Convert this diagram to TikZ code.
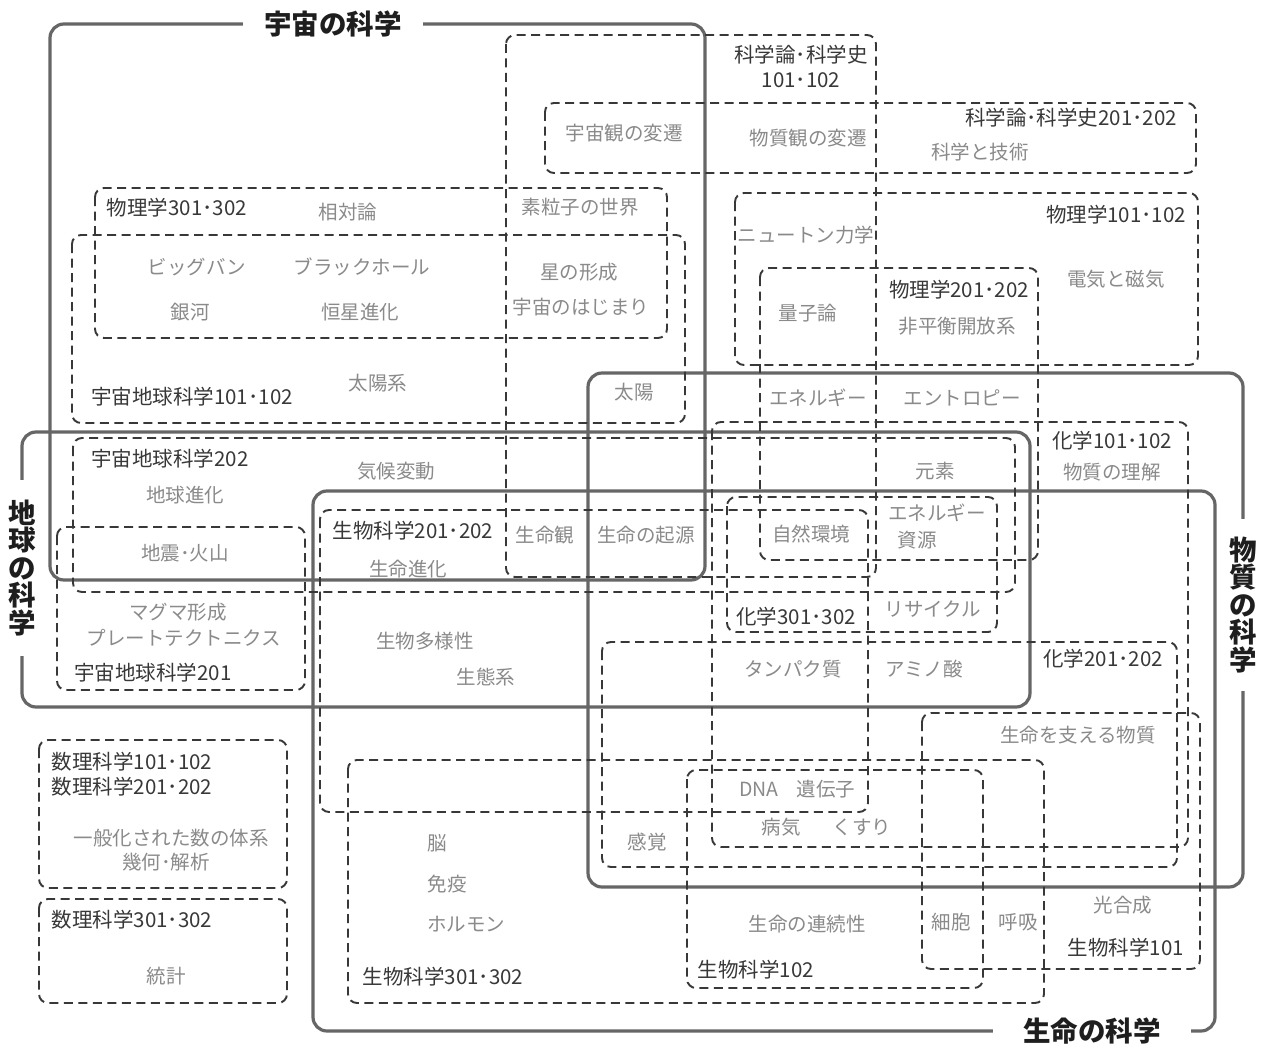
\documentclass[tikz,border=0pt]{standalone}
\usepackage{fontspec}
\newfontfamily\jp{Noto Sans CJK JP}
\definecolor{framegray}{HTML}{666666}
\definecolor{dashgray}{HTML}{383838}
\definecolor{coursegray}{HTML}{383838}
\definecolor{topicgray}{HTML}{8A8A8A}
\definecolor{titlegray}{HTML}{1E1E1E}
\tikzset{
  frame/.style={draw=framegray, line width=3.2pt, rounded corners=14pt},
  dbox/.style={draw=dashgray, line width=1.9pt, dash pattern=on 9pt off 5.5pt, rounded corners=9pt},
  course/.style={text=coursegray, font=\jp\fontsize{20.5}{23}\selectfont, inner sep=0pt},
  topic/.style={text=topicgray, font=\jp\fontsize{19.5}{22}\selectfont, inner sep=0pt},
  htitle/.style={text=titlegray, font=\jp\bfseries\fontsize{27.5}{27.5}\selectfont, fill=white, inner ysep=3pt},
  vtitle/.style={text=titlegray, font=\jp\bfseries\fontsize{27.5}{27.5}\selectfont, fill=white, align=center, inner xsep=3pt}
}
\begin{document}
\begin{tikzpicture}[x=1pt,y=-1pt]
\useasboundingbox[fill=white] (0,0) rectangle (1265,1046);

% ---- solid frames ----
\draw[frame] (50,24) rectangle (705,580);    % 宇宙の科学
\draw[frame] (22,432) rectangle (1030,707);  % 地球の科学
\draw[frame] (588,373) rectangle (1243,887); % 物質の科学
\draw[frame] (313,491) rectangle (1215,1031);% 生命の科学

% ---- dashed course boxes ----
\draw[dbox] (506,35) rectangle (876,577);    % 科学論・科学史101・102
\draw[dbox] (545,103) rectangle (1196,173);  % 科学論・科学史201・202
\draw[dbox] (95,188) rectangle (667,338);    % 物理学301・302
\draw[dbox] (72,235) rectangle (685,423);    % 宇宙地球科学101・102
\draw[dbox] (735,193) rectangle (1198,365);  % 物理学101・102
\draw[dbox] (760,268) rectangle (1038,560);  % 物理学201・202
\draw[dbox] (712,422) rectangle (1188,847);  % 化学101・102
\draw[dbox] (73,438) rectangle (1015,592);   % 宇宙地球科学202
\draw[dbox] (57,527) rectangle (305,690);    % 宇宙地球科学201
\draw[dbox] (320,510) rectangle (868,812);   % 生物科学201・202
\draw[dbox] (727,497) rectangle (997,632);   % 化学301・302
\draw[dbox] (602,642) rectangle (1177,867);  % 化学201・202
\draw[dbox] (39,740) rectangle (287,888);    % 数理科学101-202
\draw[dbox] (39,899) rectangle (287,1003);   % 数理科学301・302
\draw[dbox] (348,760) rectangle (1044,1003); % 生物科学301・302
\draw[dbox] (687,770) rectangle (983,988);   % 生物科学102
\draw[dbox] (922,713) rectangle (1200,969);  % 生物科学101

% ---- titles ----
\node[htitle, inner xsep=21pt] (tUchu) at (333,24) {宇宙の科学};
\node[htitle, inner xsep=30pt] (tSeimei) at (1092,1031) {生命の科学};
\node[vtitle, inner ysep=20pt] (tChikyu) at (22,568) {地\\球\\の\\科\\学};
\node[vtitle, inner ysep=18pt] (tBusshitsu) at (1243,605) {物\\質\\の\\科\\学};

% ---- course labels ----
\node[course] (kA1) at (801,55) {科学論･科学史};
\node[course] (kA2) at (801,80) {101･102};
\node[course] (kB) at (1071,118) {科学論･科学史201･202};
\node[course] (p301) at (177,208) {物理学301･302};
\node[course] (p101) at (1116,215) {物理学101･102};
\node[course] (p201) at (959,290) {物理学201･202};
\node[course] (e101) at (192,397) {宇宙地球科学101･102};
\node[course] (c101) at (1112,441) {化学101･102};
\node[course] (e202) at (170,459) {宇宙地球科学202};
\node[course] (b201) at (413,531) {生物科学201･202};
\node[course] (c301) at (796,617) {化学301･302};
\node[course] (c201) at (1103,659) {化学201･202};
\node[course] (e201) at (153,673) {宇宙地球科学201};
\node[course] (m101) at (132,762) {数理科学101･102};
\node[course] (m201) at (132,787) {数理科学201･202};
\node[course] (m301) at (132,920) {数理科学301･302};
\node[course] (b301) at (443,977) {生物科学301･302};
\node[course] (b102) at (756,970) {生物科学102};
\node[course] (b101) at (1126,948) {生物科学101};

% ---- topic labels ----
\node[topic] (t1) at (624,133) {宇宙観の変遷};
\node[topic] (t2) at (808,138) {物質観の変遷};
\node[topic] (t3) at (980,152) {科学と技術};
\node[topic] (t4) at (348,212) {相対論};
\node[topic] (t5) at (580,207) {素粒子の世界};
\node[topic] (t6) at (806,235) {ニュートン力学};
\node[topic] (t7) at (1116,279) {電気と磁気};
\node[topic] (t8) at (197,267) {ビッグバン};
\node[topic] (t9) at (362,267) {ブラックホール};
\node[topic] (t10) at (579,272) {星の形成};
\node[topic] (t11) at (581,307) {宇宙のはじまり};
\node[topic] (t12) at (808,313) {量子論};
\node[topic] (t13) at (957,326) {非平衡開放系};
\node[topic] (t14) at (190,312) {銀河};
\node[topic] (t15) at (360,312) {恒星進化};
\node[topic] (t16) at (378,383) {太陽系};
\node[topic] (t17) at (634,392) {太陽};
\node[topic] (t18) at (818,398) {エネルギー};
\node[topic] (t19) at (962,398) {エントロピー};
\node[topic] (t20) at (1112,472) {物質の理解};
\node[topic] (t21) at (396,471) {気候変動};
\node[topic] (t22) at (935,471) {元素};
\node[topic] (t23) at (185,495) {地球進化};
\node[topic] (t24) at (545,535) {生命観};
\node[topic] (t25) at (646,535) {生命の起源};
\node[topic] (t26) at (811,534) {自然環境};
\node[topic] (t27) at (937,513) {エネルギー};
\node[topic] (t28) at (917,540) {資源};
\node[topic] (t29) at (185,553) {地震･火山};
\node[topic] (t30) at (408,569) {生命進化};
\node[topic] (t31) at (933,609) {リサイクル};
\node[topic] (t32) at (178,612) {マグマ形成};
\node[topic] (t33) at (184,638) {プレートテクトニクス};
\node[topic] (t34) at (425,641) {生物多様性};
\node[topic] (t35) at (793,669) {タンパク質};
\node[topic] (t36) at (924,669) {アミノ酸};
\node[topic] (t37) at (486,677) {生態系};
\node[topic] (t38) at (1078,735) {生命を支える物質};
\node[topic] (t39) at (171,838) {一般化された数の体系};
\node[topic] (t40) at (166,862) {幾何･解析};
\node[topic] (t41) at (759,789) {DNA};
\node[topic] (t42) at (826,789) {遺伝子};
\node[topic] (t43) at (781,827) {病気};
\node[topic] (t44) at (862,827) {くすり};
\node[topic] (t45) at (437,843) {脳};
\node[topic] (t46) at (647,842) {感覚};
\node[topic] (t47) at (447,884) {免疫};
\node[topic] (t48) at (1123,905) {光合成};
\node[topic] (t49) at (466,924) {ホルモン};
\node[topic] (t50) at (807,924) {生命の連続性};
\node[topic] (t51) at (951,922) {細胞};
\node[topic] (t52) at (1018,922) {呼吸};
\node[topic] (t53) at (166,976) {統計};
\end{tikzpicture}
\end{document}
